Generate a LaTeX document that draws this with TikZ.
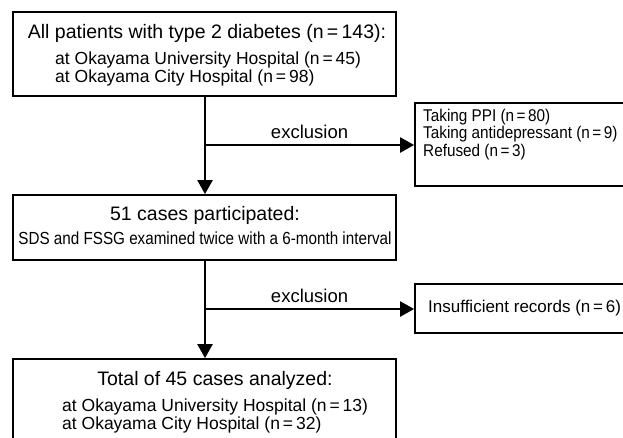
\documentclass[tikz,border=0pt]{standalone}
\usepackage{fontspec}
\setmainfont{Liberation Sans}
\usetikzlibrary{positioning,calc,arrows.meta}
\tikzset{font=\fontsize{17.5}{18.5}\selectfont}

\begin{document}
\begin{tikzpicture}[x=1pt,y=-1pt]
	\useasboundingbox (0,0) rectangle (623,437);
	\clip (0,0) rectangle (623,437);
	\tikzstyle{every node}=[inner sep=0pt]
	\tikzstyle{box}=[draw, line width=1.8pt]
	\tikzstyle{flow}=[line width=2.4pt, -{Triangle[width=15pt,length=14pt]}]
	\tikzstyle{head}=[font=\fontsize{19.5}{23}\selectfont]
	\tikzstyle{sub}=[anchor=west, align=left]

	% main column
	\node[box, minimum width=383pt, minimum height=84pt] (all) at (204.5,54) {};
	\node[head] (allt) at (207,33) {All patients with type 2 diabetes (n\,=\,143):};
	\node[sub] (alls) at (55,69) {at Okayama University Hospital (n\,=\,45)\\at Okayama City Hospital (n\,=\,98)};

	\node[box, minimum width=383pt, minimum height=65pt] (part) at (204.5,227.5) {};
	\node[head] (partt) at (205,215) {51 cases participated:};
	\node (parts) at (205,238) {\scalebox{0.87}[1]{SDS and FSSG examined twice with a 6-month interval}};

	\node[box, minimum width=383pt, minimum height=100pt] (total) at (204.5,409) {};
	\node[head] (totalt) at (215,380) {Total of 45 cases analyzed:};
	\node[sub] (totals) at (62,416) {at Okayama University Hospital (n\,=\,13)\\at Okayama City Hospital (n\,=\,32)};

	% excluded
	\node[box, minimum width=225pt, minimum height=83pt] (ex1) at (527.5,144.5) {};
	\node[sub, font=\fontsize{17}{17.5}\selectfont] (ex1t) at (423,134.5) {\scalebox{0.9}[1]{Taking PPI (n\,=\,80)}\\\scalebox{0.9}[1]{Taking antidepressant (n\,=\,9)}\\\scalebox{0.9}[1]{Refused (n\,=\,3)}};

	\node[box, minimum width=225pt, minimum height=49pt] (ex2) at (527.5,308.5) {};
	\node[sub, font=\fontsize{17}{18}\selectfont] (ex2t) at (428,308.5) {Insufficient records (n\,=\,6)};

	% arrows
	\coordinate (b1) at (205,145);
	\coordinate (b2) at (205,309);
	\draw[flow] (all.south -| b1) -- (part.north -| b1);
	\draw[flow] (b1) -- node[above=5pt, font=\fontsize{18.5}{20}\selectfont] (exc1) {exclusion} (b1 -| ex1.west);
	\draw[flow] (part.south -| b2) -- (total.north -| b2);
	\draw[flow] (b2) -- node[above=5pt, font=\fontsize{18.5}{20}\selectfont] (exc2) {exclusion} (b2 -| ex2.west);
\end{tikzpicture}
\end{document}
